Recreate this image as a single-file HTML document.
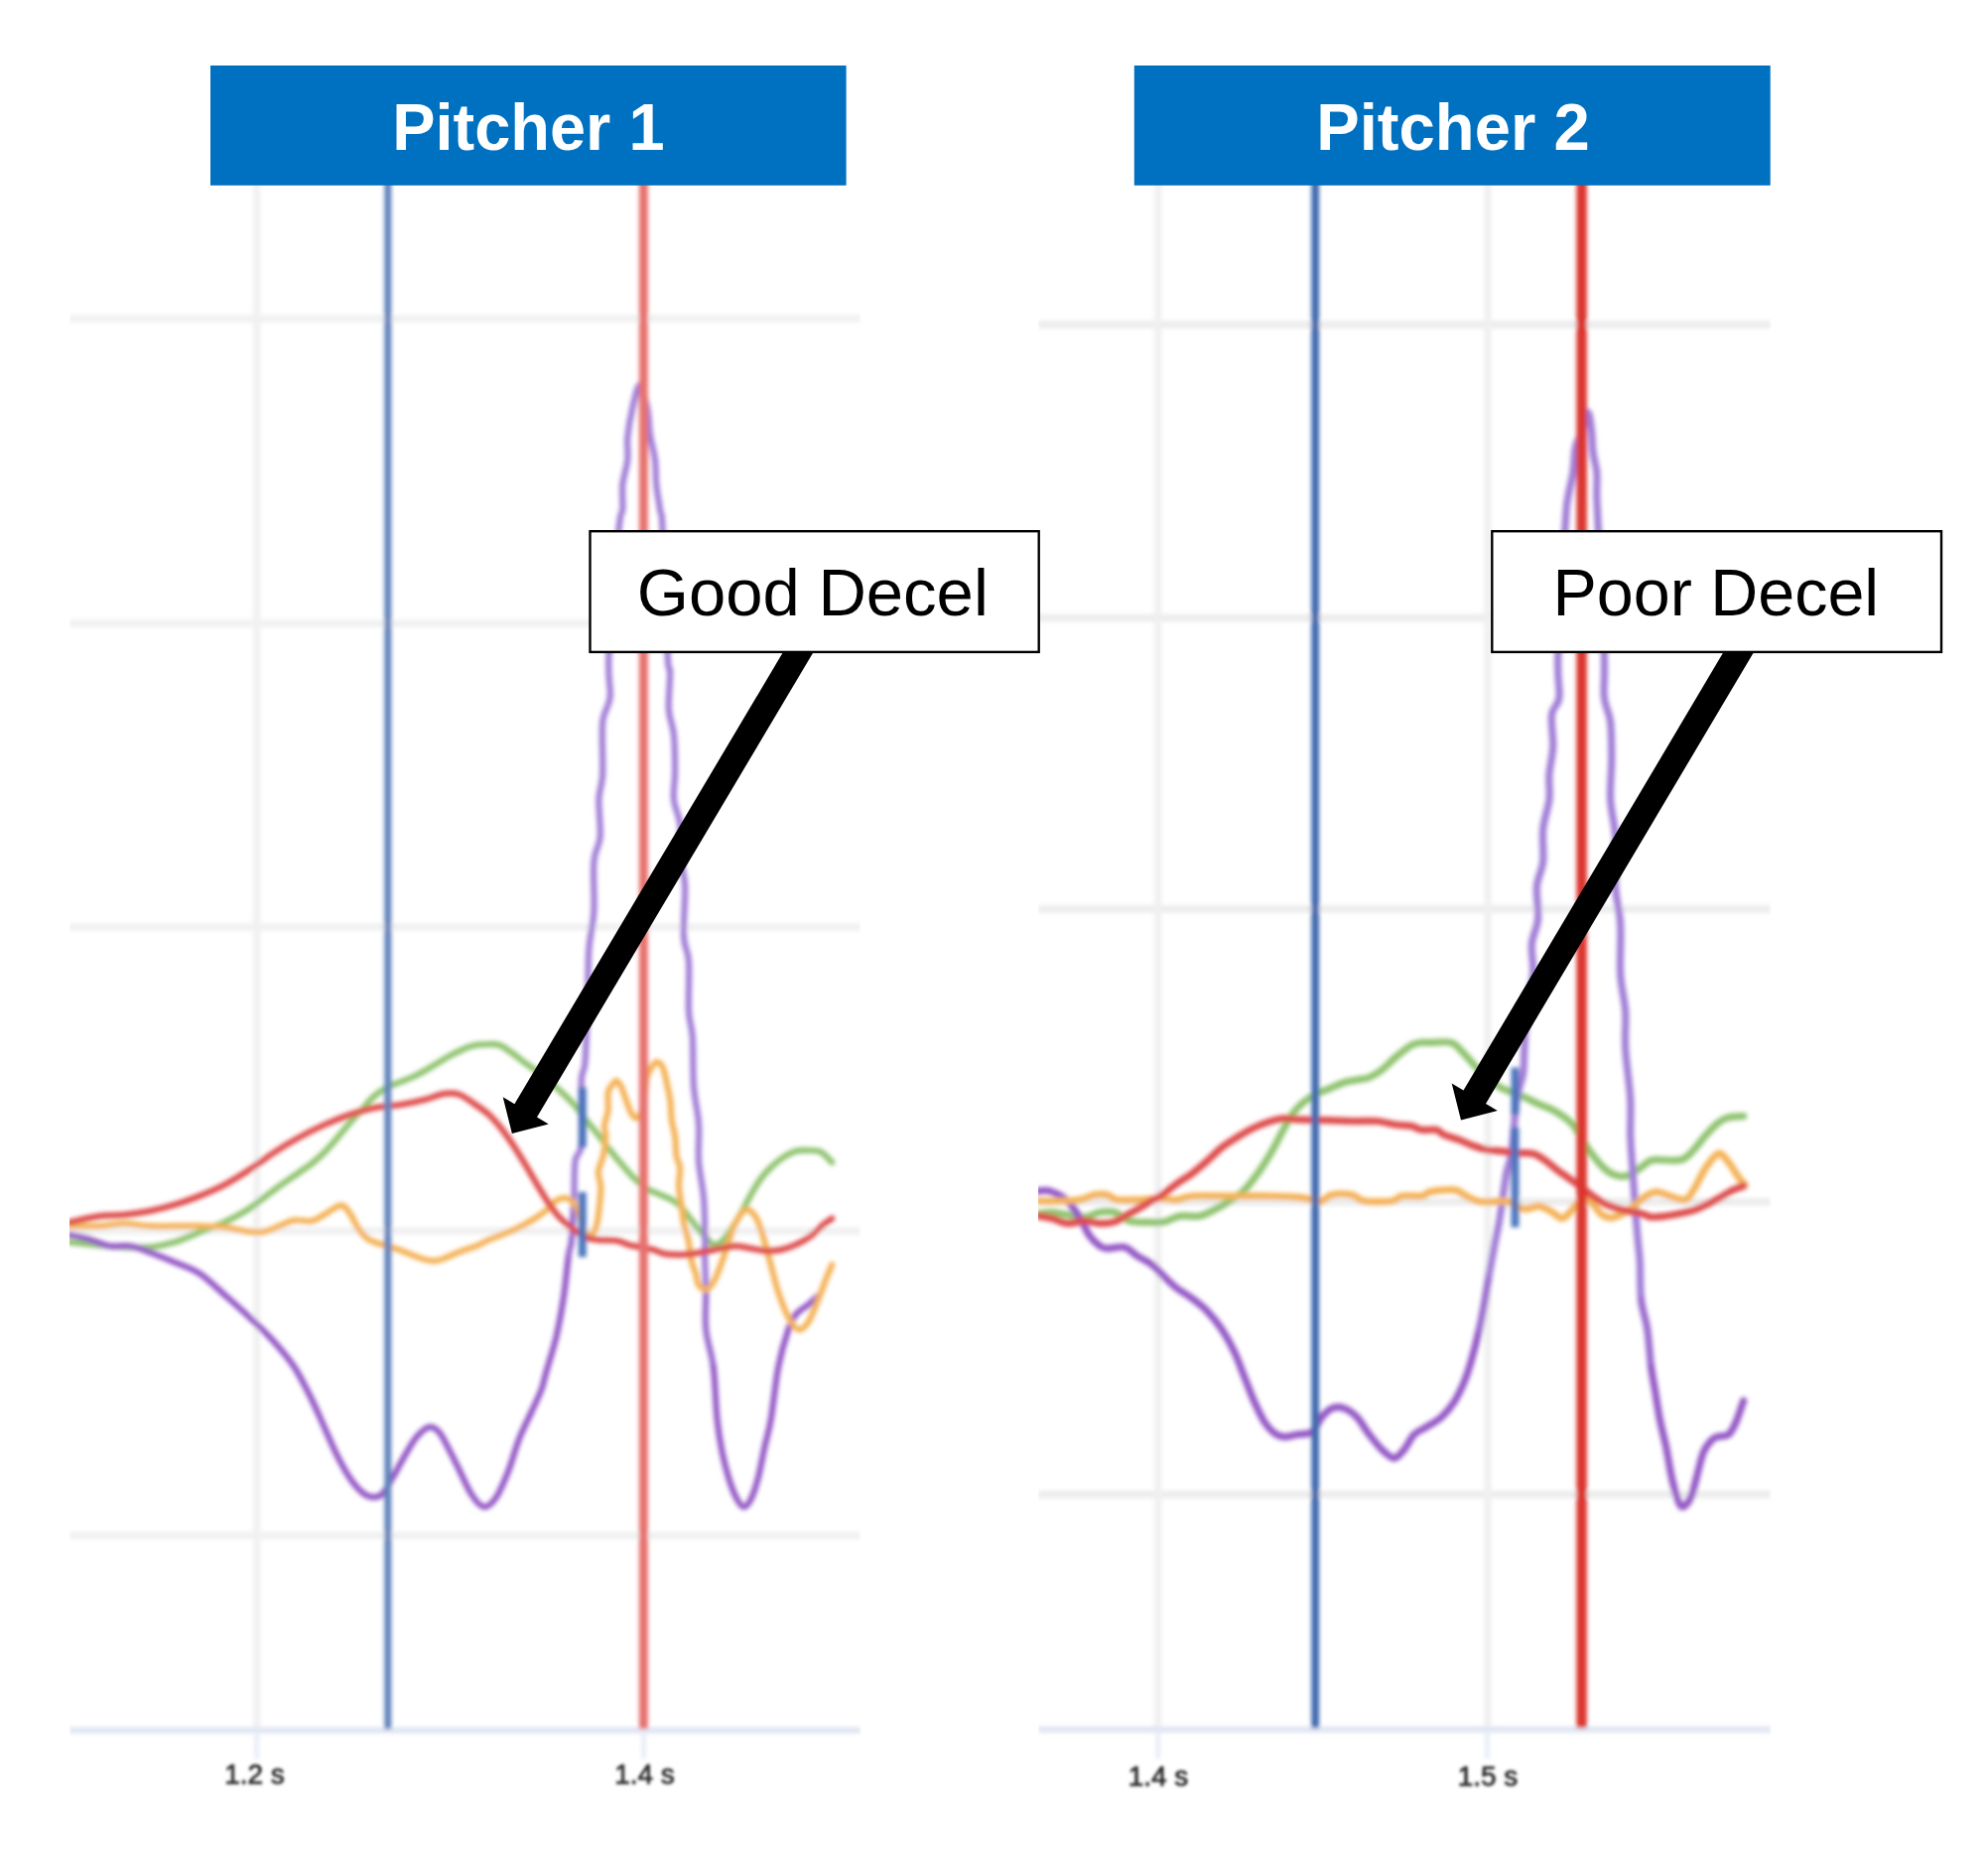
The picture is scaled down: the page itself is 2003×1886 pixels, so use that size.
<!DOCTYPE html>
<html lang="en"><head><meta charset="utf-8"><title>Pitcher deceleration comparison</title>
<style>html,body{margin:0;padding:0;background:#fff}body{width:2003px;height:1886px;overflow:hidden;font-family:"Liberation Sans",sans-serif}svg{display:block}text{font-family:"Liberation Sans",sans-serif}</style></head><body>
<svg width="2003" height="1886" viewBox="0 0 2003 1886">
<defs><filter id="soft" x="-5%" y="-5%" width="110%" height="110%"><feGaussianBlur stdDeviation="2.1"/></filter><filter id="softer" x="-20%" y="-20%" width="140%" height="140%"><feGaussianBlur stdDeviation="1.4"/></filter><clipPath id="plots"><rect x="70" y="150" width="797.5" height="1680"/><rect x="1046" y="150" width="738.5" height="1680"/></clipPath></defs>
<rect width="100%" height="100%" fill="#fff"/>
<g clip-path="url(#plots)"><g filter="url(#soft)" fill="none" stroke-linecap="butt" stroke-linejoin="round">
<g stroke="#f1f1f1" stroke-width="7.5">
<line x1="70" y1="321" x2="867" y2="321"/>
<line x1="70" y1="628" x2="867" y2="628"/>
<line x1="70" y1="934" x2="867" y2="934"/>
<line x1="70" y1="1240" x2="867" y2="1240"/>
<line x1="70" y1="1547" x2="867" y2="1547"/>
<line x1="258.7" y1="180" x2="258.7" y2="1743"/></g>
<g stroke="#ececec" stroke-width="7.5">
<line x1="1046" y1="327" x2="1784" y2="327"/>
<line x1="1046" y1="622.5" x2="1784" y2="622.5"/>
<line x1="1046" y1="915.8" x2="1784" y2="915.8"/>
<line x1="1046" y1="1210.8" x2="1784" y2="1210.8"/>
<line x1="1046" y1="1505.6" x2="1784" y2="1505.6"/>
<line x1="1166.7" y1="180" x2="1166.7" y2="1743" stroke="#f0f0f0"/><line x1="1499" y1="180" x2="1499" y2="1743" stroke="#f0f0f0"/>
</g>
<g stroke="#dde4f2" stroke-width="6"><line x1="70" y1="1743.3" x2="867" y2="1743.3"/><line x1="1046" y1="1742.6" x2="1784" y2="1742.6"/></g>
<g stroke="#e6ebf6" stroke-width="4.5"><line x1="258.7" y1="1743" x2="258.7" y2="1772"/><line x1="648.6" y1="1743" x2="648.6" y2="1772"/><line x1="1166.7" y1="1743" x2="1166.7" y2="1772"/><line x1="1498.5" y1="1743" x2="1498.5" y2="1772"/></g>
<path d="M70.1 1251.5C75.2 1252.0 91.1 1253.7 100.3 1254.5C109.5 1255.4 117.1 1256.2 125.5 1256.5C133.8 1256.9 142.2 1257.4 150.6 1256.5C159.0 1255.7 167.4 1254.0 175.8 1251.5C184.1 1249.0 192.5 1244.8 200.9 1241.4C209.3 1238.1 217.7 1235.4 226.1 1231.4C234.4 1227.4 242.8 1223.0 251.2 1217.6C259.6 1212.1 268.0 1204.8 276.4 1198.7C284.7 1192.6 295.2 1185.5 301.5 1181.1C307.8 1176.7 309.9 1175.6 314.1 1172.3C318.3 1168.9 322.5 1165.2 326.7 1161.0C330.9 1156.8 335.0 1152.0 339.2 1147.1C343.4 1142.3 347.6 1136.9 351.8 1132.0C356.0 1127.2 360.2 1122.8 364.4 1118.2C368.6 1113.6 372.8 1108.1 377.0 1104.4C381.2 1100.6 385.3 1097.9 389.5 1095.6C393.7 1093.3 397.9 1092.2 402.1 1090.5C406.3 1088.9 410.5 1087.4 414.7 1085.5C418.9 1083.6 423.1 1081.5 427.3 1079.2C431.5 1076.9 435.6 1074.2 439.8 1071.7C444.0 1069.2 448.2 1066.4 452.4 1064.1C456.6 1061.8 460.8 1059.6 465.0 1057.8C469.2 1056.0 473.4 1054.3 477.6 1053.3C481.8 1052.4 485.9 1052.1 490.1 1052.1C494.3 1052.0 498.5 1051.4 502.7 1052.8C506.9 1054.2 510.9 1057.3 515.3 1060.4C519.7 1063.4 524.8 1067.8 529.2 1071.1C533.5 1074.3 537.3 1076.6 541.4 1079.7C545.5 1082.7 549.6 1086.0 553.7 1089.5C557.8 1093.0 561.9 1096.7 566.0 1100.6C570.1 1104.4 574.2 1108.1 578.3 1112.8C582.4 1117.6 586.5 1123.7 590.6 1128.8C594.7 1133.9 598.8 1138.4 602.9 1143.6C607.0 1148.7 611.1 1154.4 615.2 1159.5C619.3 1164.7 623.4 1169.6 627.5 1174.3C631.6 1179.0 635.7 1183.9 639.8 1187.8C643.9 1191.7 647.9 1195.1 652.0 1197.6C656.1 1200.2 660.2 1201.3 664.3 1203.2C668.4 1205.0 672.9 1206.5 676.6 1208.7C680.3 1210.8 683.4 1213.0 686.5 1216.1C689.5 1219.1 692.2 1223.4 695.1 1227.1C697.9 1230.8 700.6 1234.5 703.7 1238.2C706.7 1241.9 711.0 1246.6 713.5 1249.2C716.0 1251.9 716.7 1253.6 718.8 1254.0C721.0 1254.4 723.4 1254.0 726.4 1251.5C729.3 1249.0 733.1 1243.8 736.4 1238.9C739.8 1234.1 743.1 1228.5 746.5 1222.6C749.8 1216.7 753.2 1209.6 756.5 1203.7C759.9 1197.9 763.2 1192.0 766.6 1187.4C770.0 1182.8 772.9 1179.6 776.7 1176.1C780.4 1172.5 785.0 1168.7 789.2 1166.0C793.4 1163.3 797.6 1160.9 801.8 1159.7C806.0 1158.5 810.2 1158.8 814.4 1159.0C818.6 1159.1 823.0 1158.5 827.0 1160.5C830.9 1162.5 836.4 1169.3 838.3 1171.0" stroke="#8fc36f" stroke-width="6.2" stroke-linecap="round"/>
<path d="M70.1 1244.0C73.1 1244.6 81.0 1245.9 87.7 1247.7C94.4 1249.6 103.2 1254.0 110.4 1255.3C117.5 1256.5 123.8 1254.2 130.5 1255.3C137.2 1256.3 143.1 1258.8 150.6 1261.6C158.1 1264.3 167.4 1268.1 175.8 1271.6C184.1 1275.2 192.5 1277.5 200.9 1282.9C209.3 1288.4 217.7 1297.0 226.1 1304.3C234.4 1311.7 242.8 1319.0 251.2 1327.0C259.6 1334.9 268.8 1343.7 276.4 1352.1C283.9 1360.5 290.2 1367.6 296.5 1377.3C302.8 1386.9 309.1 1399.9 314.1 1410.0C319.1 1420.0 322.5 1428.5 326.7 1437.7C330.9 1447.0 335.0 1457.0 339.2 1465.4C343.4 1473.8 347.6 1481.7 351.8 1488.0C356.0 1494.3 360.6 1499.8 364.4 1503.1C368.2 1506.5 371.1 1507.7 374.4 1508.1C377.8 1508.6 381.2 1508.6 384.5 1505.6C387.9 1502.7 390.8 1496.8 394.6 1490.5C398.3 1484.3 403.0 1475.0 407.1 1467.9C411.3 1460.8 415.5 1452.8 419.7 1447.8C423.9 1442.8 428.5 1438.6 432.3 1437.7C436.1 1436.9 439.0 1439.0 442.4 1442.8C445.7 1446.5 449.1 1454.1 452.4 1460.4C455.8 1466.6 458.7 1472.9 462.5 1480.5C466.2 1488.0 470.9 1499.3 475.1 1505.6C479.2 1511.9 483.4 1517.8 487.6 1518.2C491.8 1518.6 496.0 1514.4 500.2 1508.1C504.4 1501.9 509.0 1490.1 512.8 1480.5C516.5 1470.8 519.1 1459.9 522.8 1450.3C526.6 1440.7 531.6 1431.0 535.4 1422.6C539.2 1414.3 543.0 1406.7 545.5 1400.0C548.0 1393.3 547.8 1391.1 550.3 1382.3C552.8 1373.5 557.4 1359.7 560.4 1347.1C563.3 1334.5 565.8 1320.7 567.9 1306.8C570.0 1293.0 571.6 1273.5 572.9 1264.1" stroke="#9459c6" stroke-width="6.2" stroke-linecap="round"/>
<path d="M572.9 1264.1C574.2 1254.6 574.9 1259.5 575.8 1250.1C576.6 1240.7 577.6 1220.9 578.3 1207.6" stroke="#9a6bce" stroke-width="6.2" stroke-linecap="round"/>
<path d="M578.3 1207.6C578.9 1194.2 578.3 1179.1 579.5 1169.8C580.8 1160.6 584.8 1165.6 585.8 1152.2C586.9 1138.8 585.2 1103.2 585.8 1089.4C586.4 1075.5 588.5 1083.1 589.6 1069.2C590.6 1055.4 591.5 1025.2 592.1 1006.4C592.7 987.5 592.3 970.7 593.4 956.1C594.4 941.4 597.6 933.0 598.4 918.3C599.2 903.7 597.3 880.6 598.4 868.0C599.4 855.5 603.8 853.4 604.7 842.9C605.5 832.4 603.0 815.6 603.4 805.2C603.8 794.7 606.6 793.0 607.2 780.0C607.8 767.0 605.9 740.2 607.2 727.3C608.5 714.3 613.7 713.4 614.7 702.1C615.8 690.8 612.0 687.4 613.5 659.4C614.9 631.3 621.2 557.9 623.5 533.6C625.8 509.3 626.7 521.0 627.3 513.5C627.9 505.9 626.5 496.7 627.3 488.3C628.2 479.9 631.5 471.1 632.3 463.2C633.2 455.2 631.5 449.3 632.3 440.5C633.2 431.7 635.3 419.2 637.4 410.4C639.5 401.6 642.4 387.3 644.9 387.7C647.4 388.1 650.8 404.5 652.5 412.9C654.1 421.3 653.7 429.6 655.0 438.0C656.2 446.4 659.0 454.8 660.0 463.2C661.1 471.6 660.4 479.9 661.3 488.3C662.1 496.7 664.0 505.9 665.0 513.5C666.1 521.0 666.3 509.3 667.6 533.6C668.8 557.9 671.3 635.5 672.6 659.4C673.8 683.2 674.9 667.7 675.1 677.0C675.3 686.2 673.2 704.2 673.8 714.7C674.5 725.2 677.8 729.4 678.9 739.8C679.9 750.3 680.1 766.7 680.1 777.6C680.1 788.5 678.0 796.4 678.9 805.2C679.7 813.9 683.9 819.8 685.2 830.3C686.4 840.8 685.6 857.5 686.4 868.0C687.3 878.5 689.8 880.6 690.2 893.2C690.6 905.8 688.3 930.9 688.9 943.5C689.6 956.1 693.1 956.1 694.0 968.6C694.8 981.2 693.3 1006.4 694.0 1018.9C694.6 1031.5 696.9 1031.5 697.7 1044.1C698.6 1056.7 697.9 1079.7 699.0 1094.4C700.0 1109.1 703.2 1119.5 704.0 1132.1C704.9 1144.7 703.2 1157.3 704.0 1169.8C704.9 1182.4 708.0 1194.2 709.1 1207.6C710.1 1220.9 710.2 1240.7 710.3 1250.1C710.5 1259.5 709.9 1255.5 710.0 1264.1C710.2 1272.7 711.1 1289.2 711.3 1301.8" stroke="#a07dd6" stroke-width="6.2" stroke-linecap="round"/>
<path d="M711.3 1301.8C711.5 1314.4 710.0 1327.0 711.3 1339.5C712.5 1352.1 716.9 1362.2 718.8 1377.3" stroke="#9a6bce" stroke-width="6.2" stroke-linecap="round"/>
<path d="M718.8 1377.3C720.7 1392.4 721.1 1415.9 722.6 1430.2C724.1 1444.5 725.7 1453.2 727.6 1462.9C729.5 1472.5 731.6 1480.5 733.9 1488.0C736.2 1495.6 738.9 1503.1 741.4 1508.1C744.0 1513.2 746.5 1517.8 749.0 1518.2C751.5 1518.6 754.0 1515.7 756.5 1510.7C759.1 1505.6 761.8 1496.8 764.1 1488.0C766.4 1479.2 768.3 1467.5 770.4 1457.8C772.5 1448.2 774.4 1443.6 776.7 1430.2C779.0 1416.8 781.3 1392.4 784.2 1377.3C787.1 1362.2 791.3 1348.3 794.3 1339.5C797.2 1330.7 798.5 1328.6 801.8 1324.4C805.2 1320.3 810.6 1317.5 814.4 1314.4C818.2 1311.2 822.8 1307.1 824.4 1305.6" stroke="#9459c6" stroke-width="6.2" stroke-linecap="round"/>
<path d="M70.1 1235.2C75.2 1235.2 91.1 1235.6 100.3 1235.2C109.5 1234.7 117.1 1232.6 125.5 1232.6C133.8 1232.6 142.2 1234.7 150.6 1235.2C159.0 1235.6 167.4 1235.2 175.8 1235.2C184.1 1235.2 192.5 1235.0 200.9 1235.2C209.3 1235.4 217.7 1235.5 226.1 1236.4C234.4 1237.4 244.5 1240.2 251.2 1240.9C257.9 1241.7 261.3 1241.9 266.3 1240.9C271.3 1240.0 276.4 1237.1 281.4 1235.2C286.4 1233.2 291.0 1230.2 296.5 1229.4C301.9 1228.5 309.1 1231.1 314.1 1230.1C319.1 1229.2 321.8 1226.5 326.7 1223.8C331.5 1221.2 338.8 1214.7 343.0 1214.3C347.2 1213.9 348.7 1217.2 351.8 1221.3C355.0 1225.4 358.5 1234.3 361.9 1238.9C365.2 1243.5 367.3 1246.3 371.9 1249.0C376.5 1251.7 384.5 1253.6 389.5 1255.3C394.6 1257.0 397.9 1257.6 402.1 1259.1C406.3 1260.5 410.5 1262.5 414.7 1264.1C418.9 1265.7 423.5 1267.6 427.3 1268.6C431.0 1269.7 434.0 1270.5 437.3 1270.4C440.7 1270.2 442.8 1269.5 447.4 1267.9C452.0 1266.2 459.6 1262.4 465.0 1260.3C470.4 1258.2 475.5 1257.2 480.0 1255.4C484.5 1253.5 488.2 1251.1 492.3 1249.2C496.4 1247.4 500.5 1246.0 504.6 1244.3C508.7 1242.7 512.8 1241.3 516.9 1239.4C521.0 1237.6 525.1 1235.5 529.2 1233.3C533.3 1231.0 537.8 1228.4 541.4 1225.9C545.1 1223.4 548.2 1221.2 551.3 1218.5C554.3 1215.9 557.0 1211.9 559.9 1209.9C562.7 1208.0 565.8 1206.9 568.5 1206.9C571.1 1206.9 573.6 1208.0 575.9 1209.9C578.1 1211.9 579.6 1213.0 582.0 1218.5C584.4 1224.1 587.3 1239.2 590.0 1243.1C592.6 1247.0 596.0 1243.7 598.0 1241.9C599.9 1240.0 600.6 1236.8 601.7 1232.0C602.7 1227.3 603.5 1219.8 604.1 1213.6C604.7 1207.5 605.6 1200.7 605.3 1195.2C605.1 1189.6 602.5 1185.6 602.9 1180.4C603.3 1175.3 606.6 1170.2 607.8 1164.5C609.0 1158.7 610.1 1151.1 610.3 1146.0C610.5 1140.9 608.6 1138.2 609.0 1133.7C609.4 1129.2 612.1 1124.5 612.7 1119.0C613.3 1113.5 611.9 1105.1 612.7 1100.6C613.5 1096.0 616.2 1093.9 617.6 1092.0C619.1 1090.0 619.9 1088.3 621.3 1088.9C622.8 1089.5 624.6 1092.3 626.2 1095.6C627.9 1099.0 629.5 1104.9 631.2 1109.2C632.8 1113.5 634.4 1118.6 636.1 1121.4C637.7 1124.3 639.3 1126.4 641.0 1126.4C642.6 1126.4 644.5 1125.3 645.9 1121.4C647.3 1117.6 648.6 1109.2 649.6 1103.0C650.6 1096.9 650.8 1089.3 652.0 1084.6C653.3 1079.9 655.3 1077.2 657.0 1074.7C658.6 1072.3 660.0 1069.6 661.9 1069.8C663.7 1070.0 666.4 1072.5 668.0 1076.0C669.7 1079.5 670.5 1085.2 671.7 1090.7C672.9 1096.3 674.6 1103.0 675.4 1109.2C676.2 1115.3 675.8 1121.4 676.6 1127.6C677.4 1133.7 679.5 1139.9 680.3 1146.0C681.1 1152.2 680.7 1159.3 681.5 1164.5C682.4 1169.6 684.8 1171.6 685.2 1176.7C685.6 1181.9 683.8 1189.0 684.0 1195.2C684.2 1201.3 685.6 1207.5 686.5 1213.6C687.3 1219.8 687.7 1225.9 688.9 1232.0C690.1 1238.2 692.6 1244.3 693.8 1250.5C695.1 1256.6 695.1 1263.4 696.3 1268.9C697.5 1274.4 700.0 1279.4 701.2 1283.7C702.4 1287.9 702.0 1291.7 703.7 1294.3C705.4 1296.9 708.8 1299.7 711.3 1299.3C713.8 1298.9 716.3 1295.9 718.8 1291.8C721.3 1287.6 723.8 1280.9 726.4 1274.1C728.9 1267.4 731.4 1258.6 733.9 1251.5C736.4 1244.4 738.5 1236.8 741.4 1231.4C744.4 1225.9 748.2 1219.7 751.5 1218.8C754.9 1218.0 758.6 1221.7 761.6 1226.4C764.5 1231.0 766.6 1238.5 769.1 1246.5C771.6 1254.4 774.1 1264.9 776.7 1274.1C779.2 1283.4 781.3 1293.0 784.2 1301.8C787.1 1310.6 790.9 1320.7 794.3 1327.0C797.6 1333.2 801.0 1338.7 804.3 1339.5C807.7 1340.4 811.0 1337.0 814.4 1332.0C817.7 1327.0 821.5 1316.5 824.4 1309.4C827.4 1302.2 829.7 1295.1 832.0 1289.2C834.3 1283.4 837.2 1276.7 838.3 1274.1" stroke="#f4b359" stroke-width="6.2" stroke-linecap="round"/>
<path d="M70.1 1231.4C75.2 1230.3 91.1 1226.4 100.3 1225.1C109.5 1223.8 117.1 1224.7 125.5 1223.8C133.8 1223.0 142.2 1221.7 150.6 1220.1C159.0 1218.4 167.4 1216.3 175.8 1213.8C184.1 1211.3 192.5 1208.3 200.9 1205.0C209.3 1201.6 217.7 1198.1 226.1 1193.7C234.4 1189.3 242.8 1184.0 251.2 1178.6C259.6 1173.1 268.0 1166.4 276.4 1161.0C284.7 1155.5 293.1 1150.5 301.5 1145.9C309.9 1141.3 318.3 1137.1 326.7 1133.3C335.0 1129.5 343.4 1126.1 351.8 1123.2C360.2 1120.4 368.6 1117.9 377.0 1116.2C385.3 1114.5 393.7 1114.5 402.1 1113.2C410.5 1111.8 419.7 1110.0 427.3 1108.1C434.8 1106.3 441.5 1102.8 447.4 1101.9C453.3 1100.9 457.4 1100.9 462.5 1102.6C467.5 1104.3 472.6 1108.6 477.6 1111.9C482.5 1115.3 487.8 1118.6 492.3 1122.7C496.8 1126.7 500.5 1131.1 504.6 1136.2C508.7 1141.3 512.8 1147.3 516.9 1153.4C521.0 1159.5 525.1 1166.3 529.2 1173.1C533.3 1179.8 537.8 1187.8 541.4 1193.9C545.1 1200.1 548.0 1205.0 551.3 1209.9C554.6 1214.8 557.8 1219.5 561.1 1223.4C564.4 1227.3 567.7 1230.4 570.9 1233.3C574.2 1236.1 577.5 1238.4 580.8 1240.6C584.0 1242.9 586.9 1245.4 590.6 1246.8C594.3 1248.2 597.8 1248.7 602.9 1249.2C608.0 1249.8 616.2 1249.0 621.3 1249.9C626.4 1250.7 629.5 1253.0 633.6 1254.2C637.7 1255.3 641.8 1255.8 645.9 1256.6C650.0 1257.4 654.1 1258.0 658.2 1259.1C662.3 1260.2 665.4 1262.6 670.5 1263.4C675.6 1264.2 682.8 1264.3 688.9 1264.0C695.1 1263.7 701.1 1262.6 707.3 1261.5C713.6 1260.5 720.7 1258.8 726.4 1257.8C732.0 1256.8 736.4 1255.3 741.4 1255.3C746.5 1255.3 751.5 1257.0 756.5 1257.8C761.6 1258.6 766.6 1260.1 771.6 1260.3C776.7 1260.5 781.7 1260.1 786.7 1259.1C791.8 1258.0 796.8 1256.3 801.8 1254.0C806.8 1251.7 812.3 1248.6 816.9 1245.2C821.5 1241.9 825.9 1236.8 829.5 1233.9C833.0 1231.0 836.8 1228.7 838.3 1227.6" stroke="#de4b4b" stroke-width="6.2" stroke-linecap="round"/>
<path d="M1046.3 1222.6C1048.7 1222.4 1055.4 1221.1 1060.2 1221.3C1065.0 1221.5 1069.8 1223.0 1075.3 1223.8C1080.7 1224.7 1087.4 1226.8 1092.9 1226.4C1098.3 1225.9 1102.9 1222.2 1108.0 1221.3C1113.0 1220.5 1118.0 1219.9 1123.1 1221.3C1128.1 1222.8 1132.7 1228.5 1138.1 1230.1C1143.6 1231.8 1149.9 1231.3 1155.8 1231.4C1161.6 1231.5 1167.9 1231.9 1173.4 1230.9C1178.8 1229.8 1182.6 1226.1 1188.5 1225.1C1194.3 1224.1 1202.7 1226.1 1208.6 1225.1C1214.4 1224.1 1218.6 1221.3 1223.7 1218.8C1228.7 1216.3 1233.7 1213.4 1238.8 1210.0C1243.8 1206.7 1248.8 1203.7 1253.8 1198.7C1258.9 1193.7 1264.3 1186.3 1268.9 1179.8C1273.5 1173.3 1277.7 1166.2 1281.5 1159.7C1285.3 1153.2 1288.2 1146.9 1291.6 1140.8C1294.9 1134.8 1298.3 1128.1 1301.6 1123.2C1305.0 1118.4 1307.9 1115.3 1311.7 1111.9C1315.5 1108.6 1319.7 1105.6 1324.3 1103.1C1328.9 1100.6 1334.3 1098.9 1339.4 1096.8C1344.4 1094.7 1349.8 1092.0 1354.4 1090.5C1359.1 1089.1 1362.8 1088.9 1367.0 1088.0C1371.2 1087.2 1375.4 1087.2 1379.6 1085.5C1383.8 1083.8 1387.6 1081.5 1392.2 1078.0C1396.8 1074.4 1402.2 1068.3 1407.3 1064.1C1412.3 1059.9 1418.2 1055.1 1422.4 1052.8C1426.5 1050.5 1429.5 1050.7 1432.4 1050.3C1435.4 1049.9 1435.0 1050.4 1440.0 1050.4C1445.0 1050.5 1456.4 1048.7 1462.1 1050.4C1467.9 1052.2 1470.3 1056.9 1474.4 1060.9C1478.5 1064.9 1482.6 1070.1 1486.7 1074.4C1490.8 1078.7 1494.9 1083.2 1499.0 1086.7C1503.1 1090.2 1506.8 1092.8 1511.3 1095.3C1515.8 1097.8 1521.5 1099.6 1526.0 1101.4C1530.5 1103.3 1534.2 1104.5 1538.3 1106.4C1542.4 1108.2 1546.5 1110.7 1550.6 1112.5C1554.7 1114.3 1558.8 1115.4 1562.9 1117.4C1567.0 1119.5 1571.5 1122.1 1575.2 1124.8C1578.9 1127.5 1581.9 1129.7 1585.0 1133.4C1588.1 1137.1 1590.7 1142.4 1593.6 1146.9C1596.5 1151.4 1599.1 1156.1 1602.2 1160.4C1605.3 1164.7 1608.8 1169.2 1612.0 1172.7C1615.3 1176.2 1618.6 1179.3 1621.9 1181.3C1625.2 1183.4 1628.4 1184.6 1631.7 1185.0C1635.0 1185.4 1638.3 1185.0 1641.5 1183.8C1644.8 1182.5 1648.1 1179.9 1651.4 1177.6C1654.6 1175.4 1658.3 1171.8 1661.2 1170.3C1664.1 1168.7 1663.1 1168.7 1668.6 1168.4C1674.0 1168.1 1687.5 1170.2 1693.8 1168.5C1700.1 1166.8 1702.2 1162.6 1706.4 1158.5C1710.5 1154.3 1714.7 1148.0 1718.9 1143.4C1723.1 1138.7 1727.7 1133.7 1731.5 1130.8C1735.3 1127.9 1737.4 1126.8 1741.6 1125.8C1745.8 1124.7 1754.1 1124.7 1756.7 1124.5" stroke="#8fc36f" stroke-width="7.2" stroke-linecap="round"/>
<path d="M1046.3 1199.9C1048.2 1199.9 1053.3 1198.7 1057.7 1199.9C1062.1 1201.2 1068.6 1204.4 1072.8 1207.5C1076.9 1210.6 1079.9 1214.8 1082.8 1218.8C1085.8 1222.8 1087.8 1227.0 1090.4 1231.4C1092.9 1235.8 1095.0 1241.2 1097.9 1245.2C1100.8 1249.2 1105.0 1253.2 1108.0 1255.3C1110.9 1257.4 1111.3 1257.6 1115.5 1257.8C1119.7 1258.0 1128.1 1255.3 1133.1 1256.5C1138.1 1257.8 1141.1 1262.4 1145.7 1265.3C1150.3 1268.3 1156.2 1270.6 1160.8 1274.1C1165.4 1277.7 1169.2 1282.7 1173.4 1286.7C1177.6 1290.7 1181.3 1294.5 1185.9 1298.0C1190.5 1301.6 1196.0 1304.3 1201.0 1308.1C1206.1 1311.9 1211.1 1315.4 1216.1 1320.7C1221.1 1325.9 1226.6 1332.6 1231.2 1339.5C1235.8 1346.5 1240.0 1354.2 1243.8 1362.2C1247.6 1370.1 1250.5 1378.9 1253.8 1387.3C1257.2 1395.7 1260.5 1404.9 1263.9 1412.5C1267.3 1420.0 1270.6 1427.4 1274.0 1432.6C1277.3 1437.8 1280.7 1441.4 1284.0 1443.9C1287.4 1446.4 1290.3 1447.5 1294.1 1447.7C1297.9 1447.9 1302.0 1446.0 1306.7 1445.2C1311.3 1444.3 1317.6 1445.6 1321.8 1442.7C1325.9 1439.7 1328.5 1431.5 1331.8 1427.6C1335.2 1423.6 1338.1 1420.2 1341.9 1418.8C1345.6 1417.3 1350.3 1417.3 1354.4 1418.8C1358.6 1420.2 1362.8 1423.2 1367.0 1427.6C1371.2 1432.0 1375.4 1439.7 1379.6 1445.2C1383.8 1450.6 1388.0 1456.3 1392.2 1460.3C1396.4 1464.2 1401.0 1469.1 1404.7 1469.1C1408.5 1469.1 1411.5 1464.2 1414.8 1460.3C1418.2 1456.3 1421.1 1448.9 1424.9 1445.2C1428.6 1441.4 1432.8 1440.6 1437.4 1437.6C1442.1 1434.7 1447.9 1431.8 1452.5 1427.6C1457.1 1423.4 1461.3 1418.3 1465.1 1412.5C1468.9 1406.6 1472.2 1399.5 1475.2 1392.4C1478.1 1385.2 1480.2 1378.5 1482.7 1369.7C1485.2 1360.9 1488.2 1348.8 1490.3 1339.5" stroke="#9459c6" stroke-width="7.2" stroke-linecap="round"/>
<path d="M1490.3 1339.5C1492.4 1330.3 1493.6 1323.6 1495.3 1314.4C1497.0 1305.2 1498.6 1293.8 1500.3 1284.2" stroke="#9a6bce" stroke-width="7.2" stroke-linecap="round"/>
<path d="M1500.3 1284.2C1502.0 1274.6 1503.7 1265.3 1505.4 1256.5C1507.0 1247.7 1508.9 1239.8 1510.4 1231.4C1511.8 1223.0 1512.9 1214.6 1514.2 1206.2C1515.4 1197.9 1516.5 1188.6 1517.9 1181.1C1519.4 1173.5 1521.2 1173.3 1523.0 1161.0C1524.7 1148.6 1526.3 1120.2 1528.3 1107.0C1530.2 1093.8 1533.3 1090.2 1534.6 1081.8C1535.8 1073.4 1535.2 1067.1 1535.8 1056.7C1536.4 1046.2 1536.9 1031.5 1538.3 1018.9C1539.8 1006.4 1543.8 992.5 1544.6 981.2C1545.5 969.9 1542.5 960.2 1543.4 951.0C1544.2 941.8 1548.8 935.5 1549.6 925.9C1550.5 916.2 1547.6 902.8 1548.4 893.2C1549.2 883.5 1553.6 877.7 1554.7 868.0C1555.7 858.4 1553.6 845.8 1554.7 835.3C1555.7 824.9 1559.9 814.4 1561.0 805.2C1562.0 795.9 1560.3 788.8 1561.0 780.0C1561.6 771.2 1564.3 762.5 1564.7 752.4C1565.2 742.4 1562.4 728.1 1563.5 719.7C1564.5 711.3 1570.0 712.2 1571.0 702.1C1572.1 692.1 1568.7 688.7 1569.8 659.4C1570.8 630.0 1575.6 552.5 1577.3 526.1C1579.0 499.6 1578.6 509.3 1579.8 500.9C1581.1 492.5 1583.6 484.1 1584.9 475.8C1586.1 467.4 1585.9 457.3 1587.4 450.6C1588.8 443.9 1591.6 441.4 1593.7 435.5C1595.8 429.6 1598.3 415.4 1599.9 415.4C1601.6 415.4 1602.9 428.8 1603.7 435.5C1604.6 442.2 1604.1 448.9 1605.0 455.6C1605.8 462.3 1608.1 468.2 1608.8 475.8C1609.4 483.3 1608.5 492.5 1608.8 500.9C1609.0 509.3 1608.8 499.6 1610.0 526.1C1611.3 552.5 1615.2 630.0 1616.3 659.4C1617.3 688.7 1615.2 690.8 1616.3 702.1C1617.3 713.4 1621.3 716.8 1622.6 727.3C1623.8 737.7 1623.8 752.0 1623.8 765.0C1623.8 778.0 1622.0 792.2 1622.6 805.2C1623.2 818.1 1626.8 828.2 1627.6 842.9C1628.5 857.5 1626.8 878.5 1627.6 893.2C1628.5 907.9 1631.8 916.2 1632.6 930.9C1633.5 945.6 1631.8 966.5 1632.6 981.2C1633.5 995.9 1636.8 1006.4 1637.7 1018.9C1638.5 1031.5 1636.8 1042.0 1637.7 1056.7C1638.5 1071.3 1641.9 1092.3 1642.7 1107.0C1643.5 1121.6 1642.3 1132.1 1642.7 1144.7C1643.1 1157.3 1644.4 1169.8 1645.2 1182.4C1646.1 1195.0 1646.9 1208.9 1647.7 1220.1C1648.6 1231.4 1649.5 1241.5 1650.3 1250.1C1651.0 1258.7 1651.7 1261.7 1652.3 1271.6C1652.8 1281.5 1652.3 1298.0 1653.5 1309.4" stroke="#a07dd6" stroke-width="7.2" stroke-linecap="round"/>
<path d="M1653.5 1309.4C1654.8 1320.7 1658.2 1328.2 1659.8 1339.5C1661.5 1350.9 1662.3 1367.2 1663.6 1377.3" stroke="#9a6bce" stroke-width="7.2" stroke-linecap="round"/>
<path d="M1663.6 1377.3C1664.9 1387.3 1665.9 1391.2 1667.4 1400.0C1668.8 1408.8 1670.5 1420.5 1672.4 1430.2C1674.3 1439.8 1676.8 1448.6 1678.7 1457.8C1680.6 1467.1 1682.0 1477.5 1683.7 1485.5C1685.4 1493.5 1686.9 1500.2 1688.8 1505.6C1690.6 1511.1 1692.5 1517.8 1695.0 1518.2C1697.6 1518.6 1701.3 1513.6 1703.8 1508.1C1706.4 1502.7 1708.0 1493.1 1710.1 1485.5C1712.2 1478.0 1713.9 1468.7 1716.4 1462.9C1718.9 1457.0 1722.7 1452.9 1725.2 1450.3C1727.7 1447.7 1728.8 1448.1 1731.5 1447.3C1734.2 1446.4 1738.6 1447.7 1741.6 1445.3C1744.5 1442.8 1746.6 1438.4 1749.1 1432.7C1751.6 1427.0 1755.4 1414.9 1756.7 1411.3" stroke="#9459c6" stroke-width="7.2" stroke-linecap="round"/>
<path d="M1046.3 1210.0C1049.9 1210.0 1060.8 1210.2 1067.7 1210.0C1074.6 1209.8 1082.0 1209.8 1087.8 1208.8C1093.7 1207.7 1098.3 1204.6 1102.9 1203.7C1107.5 1202.9 1111.7 1202.9 1115.5 1203.7C1119.3 1204.6 1120.1 1207.9 1125.6 1208.8C1131.0 1209.6 1140.7 1209.0 1148.2 1208.8C1155.8 1208.5 1164.6 1207.5 1170.8 1207.5C1177.1 1207.5 1180.9 1209.2 1185.9 1208.8C1191.0 1208.3 1193.5 1205.6 1201.0 1205.0C1208.6 1204.4 1222.0 1205.0 1231.2 1205.0C1240.4 1205.0 1248.0 1205.0 1256.4 1205.0C1264.7 1205.0 1273.1 1204.8 1281.5 1205.0C1289.9 1205.2 1299.5 1205.6 1306.7 1206.2C1313.8 1206.9 1320.1 1208.1 1324.3 1208.8C1328.5 1209.4 1328.9 1210.8 1331.8 1210.0C1334.7 1209.2 1336.8 1204.8 1341.9 1203.7C1346.9 1202.7 1356.5 1202.7 1362.0 1203.7C1367.4 1204.8 1367.9 1209.0 1374.6 1210.0C1381.3 1211.1 1395.9 1210.8 1402.2 1210.0C1408.5 1209.2 1407.3 1205.8 1412.3 1205.0C1417.3 1204.1 1427.8 1205.6 1432.4 1205.0C1437.0 1204.3 1436.7 1202.0 1440.0 1201.0C1443.3 1200.0 1447.8 1199.4 1452.3 1199.1C1456.8 1198.8 1462.9 1198.2 1467.0 1199.1C1471.1 1200.1 1473.2 1202.8 1476.9 1204.7C1480.6 1206.5 1485.1 1209.2 1489.2 1210.2C1493.3 1211.2 1496.5 1210.8 1501.4 1210.8C1506.4 1210.8 1514.1 1209.4 1518.6 1210.2C1523.2 1211.0 1525.2 1214.4 1528.5 1215.7C1531.8 1217.1 1534.6 1218.3 1538.3 1218.2C1542.0 1218.1 1546.5 1214.7 1550.6 1215.1C1554.7 1215.5 1559.0 1218.6 1562.9 1220.6C1566.8 1222.7 1570.9 1227.2 1573.9 1227.4C1577.0 1227.6 1578.7 1224.4 1581.3 1221.9C1584.0 1219.3 1586.9 1214.3 1589.9 1212.0C1593.0 1209.8 1596.9 1207.7 1599.8 1208.4C1602.6 1209.0 1604.7 1213.1 1607.1 1215.7C1609.6 1218.4 1611.6 1222.5 1614.5 1224.3C1617.4 1226.2 1621.1 1227.0 1624.3 1226.8C1627.6 1226.6 1630.9 1224.7 1634.2 1223.1C1637.4 1221.5 1640.7 1219.4 1644.0 1217.0C1647.3 1214.5 1651.0 1210.6 1653.8 1208.4C1656.7 1206.1 1658.3 1204.7 1661.2 1203.4C1664.1 1202.2 1665.2 1200.1 1671.0 1201.0C1676.9 1201.9 1690.4 1209.1 1696.3 1208.8C1702.2 1208.4 1702.6 1204.1 1706.4 1198.7C1710.1 1193.2 1714.7 1182.1 1718.9 1176.1C1723.1 1170.0 1727.7 1163.1 1731.5 1162.2C1735.3 1161.4 1738.2 1167.0 1741.6 1171.0C1744.9 1175.0 1748.9 1182.3 1751.6 1186.1C1754.4 1189.9 1756.9 1192.4 1757.9 1193.7" stroke="#f4b359" stroke-width="7.2" stroke-linecap="round"/>
<path d="M1046.3 1225.1C1048.7 1225.5 1055.4 1226.4 1060.2 1227.6C1065.0 1228.9 1069.8 1232.2 1075.3 1232.6C1080.7 1233.1 1087.4 1230.1 1092.9 1230.1C1098.3 1230.1 1102.9 1232.5 1108.0 1232.6C1113.0 1232.8 1118.0 1232.6 1123.1 1230.9C1128.1 1229.2 1132.7 1225.6 1138.1 1222.6C1143.6 1219.5 1150.3 1215.7 1155.8 1212.5C1161.2 1209.4 1165.8 1207.1 1170.8 1203.7C1175.9 1200.4 1180.9 1196.0 1185.9 1192.4C1191.0 1188.8 1196.0 1186.1 1201.0 1182.3C1206.1 1178.6 1211.1 1174.2 1216.1 1169.8C1221.1 1165.4 1226.2 1159.9 1231.2 1155.9C1236.2 1152.0 1241.3 1149.0 1246.3 1145.9C1251.3 1142.7 1256.4 1139.6 1261.4 1137.1C1266.4 1134.6 1271.4 1132.5 1276.5 1130.8C1281.5 1129.1 1286.5 1127.5 1291.6 1127.0C1296.6 1126.5 1301.2 1127.6 1306.7 1127.8C1312.1 1128.0 1318.0 1128.1 1324.3 1128.3C1330.6 1128.4 1337.7 1128.6 1344.4 1128.8C1351.1 1129.0 1357.4 1129.4 1364.5 1129.5C1371.6 1129.7 1380.0 1128.9 1387.1 1129.5C1394.3 1130.2 1401.4 1132.5 1407.3 1133.3C1413.1 1134.1 1418.2 1133.7 1422.4 1134.6C1426.5 1135.4 1428.2 1137.7 1432.4 1138.3C1436.6 1139.0 1443.7 1137.5 1447.4 1138.3C1451.1 1139.1 1451.1 1141.6 1454.7 1143.2C1458.4 1144.9 1464.6 1146.3 1469.5 1148.1C1474.4 1150.0 1479.3 1152.5 1484.2 1154.3C1489.2 1156.0 1494.1 1157.7 1499.0 1158.6C1503.9 1159.5 1509.2 1159.3 1513.7 1159.8C1518.2 1160.3 1520.9 1161.2 1526.0 1161.7C1531.1 1162.1 1539.3 1161.0 1544.5 1162.3C1549.6 1163.5 1552.6 1166.3 1556.7 1169.0C1560.8 1171.8 1564.9 1175.8 1569.0 1178.9C1573.1 1181.9 1577.2 1184.6 1581.3 1187.5C1585.4 1190.3 1589.5 1193.0 1593.6 1196.1C1597.7 1199.1 1601.8 1203.0 1605.9 1205.9C1610.0 1208.8 1614.1 1211.3 1618.2 1213.3C1622.3 1215.2 1626.4 1216.3 1630.5 1217.6C1634.6 1218.8 1638.7 1219.7 1642.8 1220.6C1646.9 1221.6 1651.0 1222.2 1655.1 1223.1C1659.2 1224.0 1659.6 1226.6 1667.3 1226.2C1675.1 1225.8 1693.1 1222.7 1701.3 1220.8C1709.5 1219.0 1711.4 1217.3 1716.4 1215.0C1721.4 1212.8 1726.9 1210.0 1731.5 1207.5C1736.1 1205.0 1739.9 1202.0 1744.1 1199.9C1748.3 1197.9 1754.6 1195.8 1756.7 1194.9" stroke="#de4b4b" stroke-width="7.2" stroke-linecap="round"/>
<g><line x1="390.8" y1="180" x2="390.8" y2="1742" stroke="#5f82bc" stroke-width="7"/>
<line x1="648.4" y1="180" x2="648.4" y2="1742" stroke="#e7716e" stroke-width="9"/>
<line x1="1325.2" y1="180" x2="1325.2" y2="1741" stroke="#3e67ae" stroke-width="7.8"/>
<line x1="1593.6" y1="180" x2="1593.6" y2="1741" stroke="#db352d" stroke-width="10.5"/></g>
<g stroke="#4470bb" stroke-width="8" opacity="0.95"><line x1="586.8" y1="1095.5" x2="586.8" y2="1156"/><line x1="586.8" y1="1201" x2="586.8" y2="1266.5"/><line x1="1526.5" y1="1075.5" x2="1526.5" y2="1123"/><line x1="1526.5" y1="1136" x2="1526.5" y2="1236.5"/></g>
</g></g>
<g filter="url(#softer)" font-size="28" fill="#2a2a2a" stroke="#2a2a2a" stroke-width="0.8" text-anchor="middle">
<text x="256.5" y="1797">1.2 s</text><text x="649.5" y="1797">1.4 s</text><text x="1167" y="1798.5">1.4 s</text><text x="1499" y="1798.5">1.5 s</text></g>
<rect x="212" y="66" width="640.6" height="120.8" fill="#0070c0"/><rect x="1142.8" y="66" width="640.9" height="120.8" fill="#0070c0"/>
<g font-size="67.5" font-weight="bold" fill="#fff"><text x="395.2" y="151" textLength="274.4" lengthAdjust="spacingAndGlyphs">Pitcher 1</text><text x="1326.2" y="151" textLength="275.5" lengthAdjust="spacingAndGlyphs">Pitcher 2</text></g>
<polygon points="801.4,636.1 518.4,1112.2 506.7,1105.2 515.9,1142.1 552.7,1132.6 541.0,1125.6 824.0,649.5" fill="#000"/>
<polygon points="1748.9,636.1 1474.5,1098.5 1462.7,1091.5 1472.0,1128.4 1508.8,1118.9 1497.0,1111.9 1771.5,649.5" fill="#000"/>
<g fill="#fff" stroke="#000" stroke-width="2.4"><rect x="594.5" y="535.2" width="452.2" height="121.7"/><rect x="1503.3" y="535.2" width="452.7" height="121.7"/></g>
<g font-size="67.5" fill="#000"><text x="641.8" y="619.5" textLength="354" lengthAdjust="spacingAndGlyphs">Good Decel</text><text x="1564.5" y="619.5" textLength="328.6" lengthAdjust="spacingAndGlyphs">Poor Decel</text></g>
</svg></body></html>
